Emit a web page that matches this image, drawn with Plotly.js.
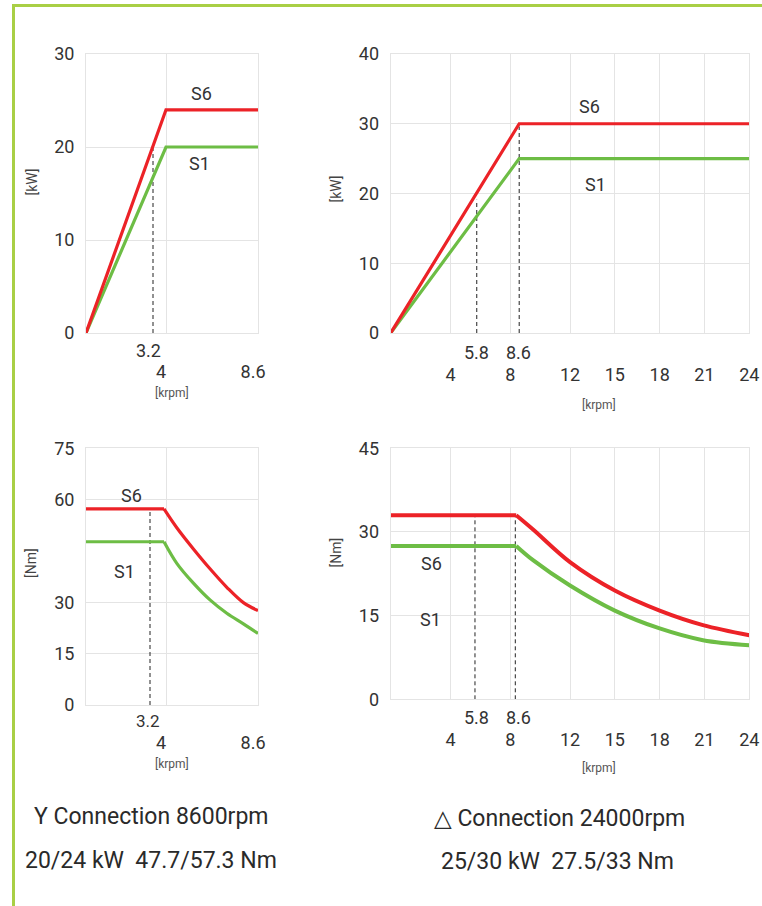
<!DOCTYPE html>
<html>
<head>
<meta charset="utf-8">
<script src="https://cdn.plot.ly/plotly-3.0.1.min.js"></script>
<style>
  html, body { margin: 0; padding: 0; background: #ffffff; }
  #chart { width: 762px; height: 906px; }
</style>
</head>
<body>
<div id="chart"></div>
<script>
// ---------------- DATA ----------------
// Y connection 8600 rpm - power [kW] vs speed [krpm]
const yPowSpeed = [0, 4, 8.6];
const yPowS6 = [0, 24, 24];
const yPowS1 = [0, 20, 20];
// Delta connection 24000 rpm - power [kW]
const dPowSpeed = [0, 8.6, 24];
const dPowS6 = [0, 30, 30];
const dPowS1 = [0, 25, 25];
// Y connection - torque [Nm]
const yTqSpeed = [0, 3.9, 4.54, 5.37, 6.2, 7.04, 7.87, 8.6];
const yTqS6 = [57.3, 57.3, 51.8, 45.6, 39.8, 34.4, 29.9, 27.6];
const yTqS1 = [47.7, 47.7, 41.4, 35.6, 30.7, 26.8, 23.7, 20.9];
// Delta connection - torque [Nm]
const dTqSpeed = [0, 8.4, 9.55, 12.0, 15.0, 18.0, 20.9, 24];
const dTqS6 = [33, 33, 30.4, 24.6, 19.5, 15.9, 13.3, 11.5];
const dTqS1 = [27.5, 27.5, 24.9, 20.4, 15.9, 12.7, 10.6, 9.7];

// dashed marker lines (speed, top value)
const yPowDashX = [3.35];        const yPowDashTop = [19.9];
const dPowDashX = [5.76, 8.6];   const dPowDashTop = [19.1, 29.6];
const yTqDashX = [3.2];          const yTqDashTop = [57.3];
const dTqDashX = [5.64, 8.34];   const dTqDashTop = [33, 33];

// marker labels
const yMarkLabels = ["3.2"];       const yMarkVals = [3.2];
const dMarkLabels = ["5.8", "8.6"]; const dMarkVals = [5.8, 8.6];

// axis ticks
const yXTicks = [4, 8.6];
const yXTickText = ["4", "8.6"];
const dXTicks = [4, 8, 12, 15, 18, 21, 24];
const dXTickText = ["4", "8", "12", "15", "18", "21", "24"];
const yPowYTicks = [0, 10, 20, 30];
const dPowYTicks = [0, 10, 20, 30, 40];
const yTqYTicks = [0, 15, 30, 60, 75];
const dTqYTicks = [0, 15, 30, 45];

const seriesNames = ["S6", "S1"];
const powerUnit = "[kW]";
const torqueUnit = "[Nm]";
const speedUnit = "[krpm]";
const captions = [
  "Y Connection 8600rpm",
  "20/24 kW\u00a0 47.7/57.3 Nm",
  "\u25B3 Connection 24000rpm",
  "25/30 kW\u00a0 27.5/33 Nm"
];

// ---------------- STYLE / LAYOUT ----------------
const W = 762, H = 906;
const RED = "#ec2227", GREEN = "#6dbd45";
const FONT = "Roboto, 'DejaVu Sans', sans-serif";
const TXT = "#333333";
const px = p => p / W;
const py = p => 1 - p / H;

const traces = [];
function addSeries(xa, ya, xs, s6, s1, w) {
  traces.push({x: xs, y: s1, xaxis: xa, yaxis: ya, mode: "lines", name: seriesNames[1],
    line: {color: GREEN, width: w}, hoverinfo: "skip"});
  traces.push({x: xs, y: s6, xaxis: xa, yaxis: ya, mode: "lines", name: seriesNames[0],
    line: {color: RED, width: w}, hoverinfo: "skip"});
}
// torque: flat part (straight) + field-weakening part (smooth)
function addTorque(xa, ya, xs, s6, s1, w) {
  [[s1, GREEN, seriesNames[1]], [s6, RED, seriesNames[0]]].forEach(([s, c, n]) => {
    traces.push({x: xs.slice(0, 2), y: s.slice(0, 2), xaxis: xa, yaxis: ya, mode: "lines",
      name: n, line: {color: c, width: w}, hoverinfo: "skip"});
    traces.push({x: xs.slice(1), y: s.slice(1), xaxis: xa, yaxis: ya, mode: "lines",
      name: n, line: {color: c, width: w, shape: "spline", smoothing: 1}, hoverinfo: "skip"});
  });
}
function addDashes(xa, ya, xs, tops) {
  xs.forEach((v, i) => {
    traces.push({x: [v, v], y: [0, tops[i]], xaxis: xa, yaxis: ya, mode: "lines",
      line: {color: "#222222", width: 1, dash: "4px,3px"}, hoverinfo: "skip"});
  });
}
addDashes("x", "y", yPowDashX, yPowDashTop);
addDashes("x2", "y2", dPowDashX, dPowDashTop);
addDashes("x3", "y3", yTqDashX, yTqDashTop);
addDashes("x4", "y4", dTqDashX, dTqDashTop);
addSeries("x", "y", yPowSpeed, yPowS6, yPowS1, 3.2);
addSeries("x2", "y2", dPowSpeed, dPowS6, dPowS1, 3.2);
addTorque("x3", "y3", yTqSpeed, yTqS6, yTqS1, 3.2);
addTorque("x4", "y4", dTqSpeed, dTqS6, dTqS1, 4);

const GRID = "#e4e4e4";
function xAxis(dom, range, tv, tt, anchor, standoff, shift) {
  return {domain: dom, range: range, anchor: anchor, tickvals: tv, ticktext: tt,
    showgrid: true, gridcolor: GRID, gridwidth: 1, zeroline: false,
    showline: true, mirror: true, linecolor: GRID, linewidth: 1,
    ticks: "", ticklabelstandoff: standoff, ticklabelshift: shift,
    tickfont: {family: FONT, size: 18, color: TXT}, fixedrange: true};
}
function yAxis(dom, range, tv, anchor) {
  return {domain: dom, range: range, anchor: anchor, tickvals: tv,
    showgrid: true, gridcolor: GRID, gridwidth: 1, zeroline: false,
    showline: true, mirror: true, linecolor: GRID, linewidth: 1,
    ticks: "", ticklabelstandoff: 7,
    tickfont: {family: FONT, size: 18, color: TXT}, fixedrange: true};
}
const LX = [px(86), px(258)], RX = [px(390.7), px(749.3)];
const TY = [py(333), py(54)];
const BLY = [py(705), py(448.3)], BRY = [py(699.3), py(448.3)];

const annotations = [];
function lab(xref, yref, x, y, text, size, color, extra) {
  annotations.push(Object.assign({xref: xref, yref: yref, x: x, y: y, text: text,
    showarrow: false, xanchor: "center", yanchor: "middle",
    font: {family: FONT, size: size, color: color}}, extra || {}));
}
// S6 / S1 labels
lab("x", "y", 5.75, 25.7, seriesNames[0], 18, TXT);
lab("x", "y", 5.65, 18.2, seriesNames[1], 18, TXT);
lab("x2", "y2", 13.3, 32.5, seriesNames[0], 18, TXT);
lab("x2", "y2", 13.7, 21.3, seriesNames[1], 18, TXT);
lab("x3", "y3", 2.25, 61.1, seriesNames[0], 18, TXT);
lab("x3", "y3", 1.9, 38.9, seriesNames[1], 18, TXT);
lab("x4", "y4", 2.74, 24.3, seriesNames[0], 18, TXT);
lab("x4", "y4", 2.68, 14.3, seriesNames[1], 18, TXT);
// marker labels
yMarkLabels.forEach((t, i) => lab("x", "paper", yMarkVals[i] - 0.1, py(350), t, 18, TXT));
dMarkLabels.forEach((t, i) => lab("x2", "paper", dMarkVals[i] - 0.05, py(352), t, 18, TXT));
yMarkLabels.forEach((t, i) => lab("x3", "paper", yMarkVals[i] - 0.1, py(721), t, 17, TXT));
dMarkLabels.forEach((t, i) => lab("x4", "paper", dMarkVals[i] - 0.05, py(717), t, 18, TXT));
// axis unit titles
lab("paper", "paper", px(31.5), py(182), powerUnit, 14, "#444", {textangle: -90});
lab("paper", "paper", px(335.5), py(189), powerUnit, 14, "#444", {textangle: -90});
lab("paper", "paper", px(31), py(563), torqueUnit, 14, "#444", {textangle: -90});
lab("paper", "paper", px(335.5), py(553), torqueUnit, 14, "#444", {textangle: -90});
lab("paper", "paper", px(171.7), py(393), speedUnit, 12, "#555");
lab("paper", "paper", px(599.3), py(405), speedUnit, 12, "#555");
lab("paper", "paper", px(171.7), py(764), speedUnit, 12, "#555");
lab("paper", "paper", px(599.3), py(767.5), speedUnit, 12, "#555");
// captions
lab("paper", "paper", px(150.5), py(816), captions[0], 23, "#2a2a2a");
lab("paper", "paper", px(151), py(860), captions[1], 23, "#2a2a2a");
lab("paper", "paper", px(559), py(818), captions[2], 23, "#2a2a2a");
lab("paper", "paper", px(557.5), py(861), captions[3], 23, "#2a2a2a");

const layout = {
  width: W, height: H, margin: {l: 0, r: 0, t: 0, b: 0},
  paper_bgcolor: "#ffffff", plot_bgcolor: "#ffffff", showlegend: false,
  xaxis: xAxis(LX, [0, 8.6], yXTicks, yXTickText, "y", 22, -5),
  yaxis: yAxis(TY, [0, 30], yPowYTicks, "x"),
  xaxis2: xAxis(RX, [0, 24], dXTicks, dXTickText, "y2", 25, 0),
  yaxis2: yAxis(TY, [0, 40], dPowYTicks, "x2"),
  xaxis3: xAxis(LX, [0, 8.6], yXTicks, yXTickText, "y3", 21, -5),
  yaxis3: yAxis(BLY, [0, 75], yTqYTicks, "x3"),
  xaxis4: xAxis(RX, [0, 24], dXTicks, dXTickText, "y4", 24, 0),
  yaxis4: yAxis(BRY, [0, 45], dTqYTicks, "x4"),
  annotations: annotations,
  shapes: [
    {type: "line", xref: "paper", yref: "paper", x0: px(13.5), x1: px(13.5), y0: 0, y1: py(4),
     line: {color: "#a9cf45", width: 3}},
    {type: "line", xref: "paper", yref: "paper", x0: px(12), x1: 1, y0: py(5.5), y1: py(5.5),
     line: {color: "#a9cf45", width: 3}}
  ]
};

Plotly.newPlot("chart", traces, layout, {staticPlot: true, displayModeBar: false});
</script>
</body>
</html>
